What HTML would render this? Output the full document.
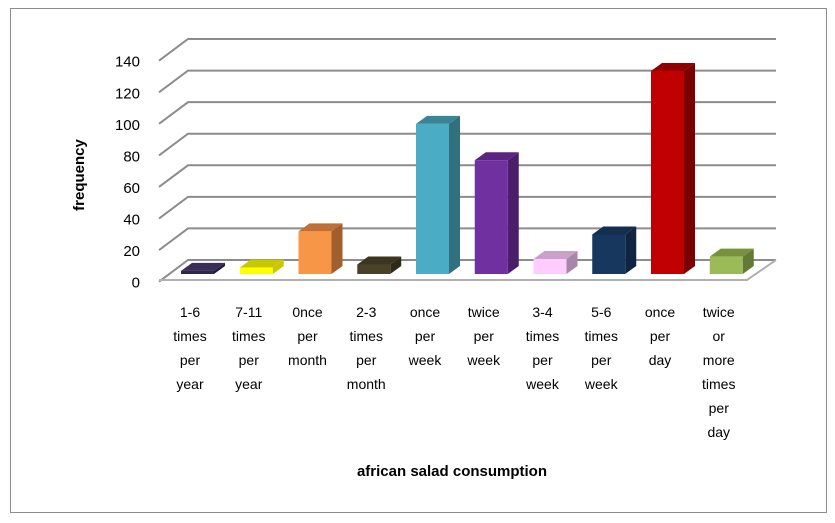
<!DOCTYPE html>
<html><head><meta charset="utf-8"><style>
body{margin:0;background:#fff;}
svg{display:block;font-family:"Liberation Sans",sans-serif;}
</style></head><body>
<svg width="835" height="523">
<rect x="10.5" y="8.5" width="816" height="504" fill="#fff" stroke="#8c8c8c"/>
<g id="grid"></g>
<g id="bars"></g>
<g id="ylab" font-size="15" fill="#000" text-anchor="end"></g>
<g id="xlab" font-size="14" fill="#000" text-anchor="middle"></g>
<text x="452" y="476" font-size="15" font-weight="bold" text-anchor="middle">african salad consumption</text>
<text transform="translate(84,175) rotate(-90)" font-size="15" font-weight="bold" text-anchor="middle">frequency</text>
</svg>
<script>
const categories=[["1-6","times","per","year"],["7-11","times","per","year"],["0nce","per","month"],["2-3","times","per","month"],["once","per","week"],["twice","per","week"],["3-4","times","per","week"],["5-6","times","per","week"],["once","per","day"],["twice","or","more","times","per","day"]];
const values=[2,4,27,6,95,72,9.5,25,128.5,11];
const yTicks=[0,20,40,60,80,100,120,140];
const colors=[["#30264a","#241c38","#3a2e58"],["#ffff00","#c8c800","#c8c800"],["#f79646","#a05f2c","#c07036"],["#4a4228","#302a18","#3c3520"],["#4bacc6","#31707f","#3a8497"],["#7030a0","#4a1e6a","#5a2480"],["#ffccff","#a886a8","#c8a0c8"],["#17375e","#0f2440","#142e4e"],["#c00000","#7a0000","#900000"],["#9bbb59","#627a36","#76923c"]];
const NS="http://www.w3.org/2000/svg";
function mk(tag,attrs,parent){const e=document.createElementNS(NS,tag);for(const k in attrs)e.setAttribute(k,attrs[k]);parent.appendChild(e);return e;}
const backY=v=>260-v*(221/140);
const barY=v=>274-v*1.58;
const catX=i=>181+i*58.75;
const grid=document.getElementById('grid');
yTicks.forEach(t=>{
  const y=backY(t);
  const l=mk('polyline',{points:`159,${y+21.7} 188,${y} 776,${y}`,fill:'none',stroke:'#8c8c8c','stroke-width':2},grid);
  
  
});
const fl=mk('polyline',{points:`159,280 747,280 776,260`,fill:'none',stroke:'#b0b0b0','stroke-width':2},grid);


const ylab=document.getElementById('ylab');
yTicks.forEach(t=>{
  const y=backY(t)+21.7;
  const tx=mk('text',{x:140,y:y+6},ylab);tx.textContent=t;
  
  
});
const bars=document.getElementById('bars');
const W=33,DX=11,DY=8;
values.forEach((v,i)=>{
  const x=catX(i),y0=274,y1=barY(v),c=colors[i];
  const g=mk('g',{},bars);
  
  
  mk('polygon',{points:`${x+W},${y0} ${x+W},${y1} ${x+W+DX},${y1-DY} ${x+W+DX},${y0-DY}`,fill:c[1]},g);
  mk('polygon',{points:`${x},${y1} ${x+DX},${y1-DY} ${x+W+DX},${y1-DY} ${x+W},${y1}`,fill:c[2]},g);
  mk('rect',{x:x,y:y1,width:W,height:y0-y1,fill:c[0]},g);
});
const xlab=document.getElementById('xlab');
categories.forEach((lines,i)=>{
  const t=mk('text',{x:catX(i)+9,y:317},xlab);
  
  
  lines.forEach((s,j)=>{const ts=mk('tspan',{x:catX(i)+9,dy:j?24:0},t);ts.textContent=s;});
});
</script>
</body></html>
